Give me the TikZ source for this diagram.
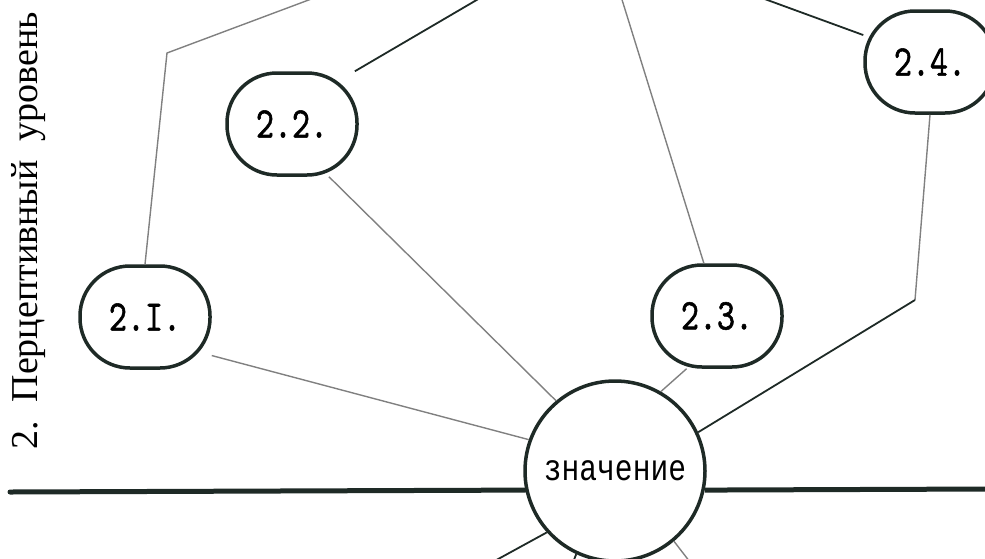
\documentclass[tikz,border=0pt]{standalone}
\usepackage{fontspec}
\setmainfont{Liberation Serif}
\newfontfamily\typewr[FakeStretch=0.8]{Liberation Mono}
\newfontfamily\labelfont{lmmono10-regular}[Extension=.otf, FakeStretch=0.78, FakeBold=1.2]
\usepackage{tikz}
\definecolor{inkc}{RGB}{30,42,38}

\begin{document}
\begin{tikzpicture}[x=1pt,y=-1pt,
        item/.style = {draw=inkc, line width=3.5pt, rounded corners=50pt,
              minimum width=130pt, minimum height=102pt, inner sep=0pt,
              font=\labelfont\fontsize{44}{44}\selectfont},
        sense/.style = {circle, draw=inkc, line width=3.5pt, minimum size=180pt,
              inner sep=0pt, font=\typewr\fontsize{37}{37}\selectfont},
        pencil/.style = {draw=black!50, line width=1.4pt},
        firm/.style = {draw=inkc, line width=1.8pt},
    ]
    \useasboundingbox (0,0) rectangle (985,558);
    \clip (0,0) rectangle (985,558);
    % level title
    \node[rotate=90, font=\fontsize{38}{38}\selectfont] (title) at (29,231) {2.\ \ Перцептивный\ \ уровень};
    % nodes
    \node[item] (n21) at (145,317) {2.I.};
    \node[item] (n22) at (292,124) {2.2.};
    \node[item] (n23) at (717,316) {2.3.};
    \node[item] (n24) at (930,62) {2.4.};
    \node[sense] (zn) at (615,471) {значение};
    % free ends
    \coordinate (c21) at (167,53);
    \coordinate (t21) at (330,-8);
    \coordinate (t22) at (492,-9);
    \coordinate (t23) at (619,-10);
    \coordinate (t24) at (740,-10);
    \coordinate (c24) at (915,300);
    \coordinate (b1) at (469,575);
    \coordinate (b2) at (568,575);
    \coordinate (b3) at (700,575);
    \coordinate (hl) at (10,492);
    \coordinate (hr) at (990,489);
    % to the level above
    \draw[pencil] (n21.north) -- (c21) -- (t21);
    \draw[firm] (n22.40) -- (t22);
    \draw[pencil] (n23.104) -- (t23);
    \draw[firm] (n24.158) -- (t24);
    % to the meaning
    \draw[pencil] (n21.-30) -- (zn.160);
    \draw[pencil] (n22.-55) -- (zn.130);
    \draw[pencil] (n23.-120) -- (zn.60);
    \draw[pencil] (n24.south) -- (c24);
    \draw[firm] (c24) -- (zn.25);
    % below
    \draw[firm] (zn.-138) -- (b1);
    \draw[firm] (zn.-115) -- (b2);
    \draw[pencil] (zn.-50) -- (b3);
    % level border
    \draw[inkc, line width=5pt, line cap=round] (hl) -- (zn.192);
    \draw[inkc, line width=5pt] (zn.-12) -- (hr);
\end{tikzpicture}
\end{document}
